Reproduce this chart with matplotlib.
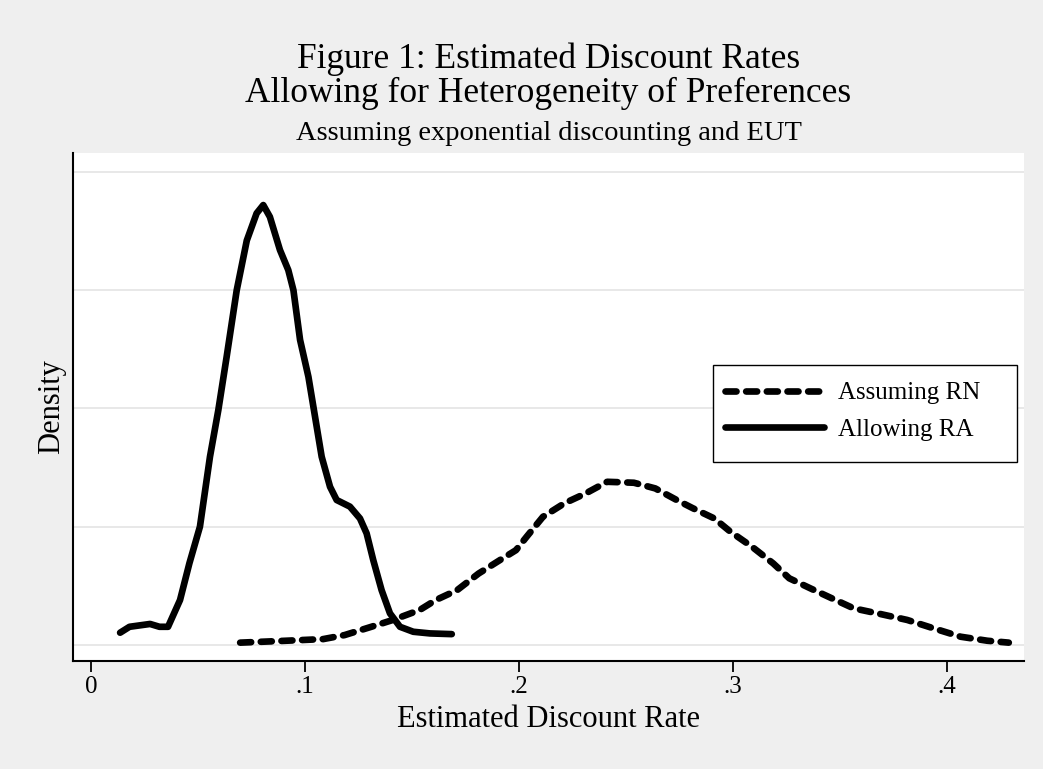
import matplotlib
matplotlib.use("Agg")
import matplotlib.pyplot as plt
from matplotlib.patches import Rectangle

# ---- data ----
ra_x = [0.0136, 0.018, 0.0276, 0.032, 0.036, 0.0416, 0.046, 0.0509, 0.0556, 0.0595,
        0.0634, 0.0681, 0.0728, 0.0774, 0.0805, 0.0836, 0.0883, 0.0922, 0.0946, 0.0977,
        0.1016, 0.1047, 0.1078, 0.1117, 0.1148, 0.121, 0.1257, 0.1288, 0.1319, 0.1358,
        0.1397, 0.1444, 0.1506, 0.1584, 0.1686]
ra_y = [0.52, 0.77, 0.89, 0.77, 0.77, 1.9, 3.46, 5.0, 7.96, 9.93,
        12.19, 15.0, 17.1, 18.25, 18.6, 18.1, 16.7, 15.85, 15.0, 12.9,
        11.34, 9.65, 7.96, 6.69, 6.13, 5.85, 5.35, 4.72, 3.59, 2.32,
        1.34, 0.77, 0.56, 0.49, 0.46]

rn_x = [0.0697, 0.0885, 0.1085, 0.1185, 0.131, 0.1411, 0.1536, 0.1611, 0.1711, 0.1811,
        0.1911, 0.1986, 0.2036, 0.2112, 0.2212, 0.2312, 0.2412, 0.2537, 0.2637, 0.2737,
        0.2813, 0.2913, 0.2988, 0.3088, 0.3188, 0.3263, 0.3363, 0.3463, 0.3564, 0.3689,
        0.3814, 0.3939, 0.4064, 0.4189, 0.4289]
rn_y = [0.10, 0.17, 0.25, 0.42, 0.77, 1.06, 1.48, 1.90, 2.32, 3.02,
        3.59, 4.01, 4.58, 5.42, 5.99, 6.41, 6.90, 6.86, 6.62, 6.13,
        5.78, 5.35, 4.79, 4.16, 3.45, 2.82, 2.39, 1.97, 1.55, 1.31,
        1.06, 0.70, 0.35, 0.18, 0.10]

x_ticks = [0, 0.1, 0.2, 0.3, 0.4]
x_tick_labels = ["0", ".1", ".2", ".3", ".4"]
y_grid = [0, 5, 10, 15, 20]

title_lines = "Figure 1: Estimated Discount Rates\nAllowing for Heterogeneity of Preferences"
subtitle = "Assuming exponential discounting and EUT"
series_labels = ["Assuming RN", "Allowing RA"]

# ---- figure ----
serif = ["Liberation Serif", "DejaVu Serif"]
plt.rcParams["font.family"] = serif

bg = "#efefef"
fig = plt.figure(figsize=(10.43, 7.69), dpi=100, facecolor=bg)
ax = fig.add_axes([73 / 1043, 1 - 661 / 769, 951 / 1043, 508 / 769])
ax.set_facecolor("white")

lw = 4.8
ax.plot(rn_x, rn_y, color="black", lw=lw, linestyle=(0, (1.65, 1.45)),
        dash_capstyle="round", solid_capstyle="round", dash_joinstyle="round",
        label=series_labels[0], zorder=3)
ax.plot(ra_x, ra_y, color="black", lw=lw, solid_capstyle="round",
        solid_joinstyle="round", label=series_labels[1], zorder=3)

ax.set_xlim(-0.00841, 0.436)
ax.set_ylim(-0.676, 20.8)

ax.set_yticks(y_grid)
ax.set_yticklabels([])
ax.tick_params(axis="y", length=0)
ax.grid(axis="y", color="#e6e6e6", lw=1.3, zorder=0)
ax.set_xticks(x_ticks)
ax.set_xticklabels(x_tick_labels, fontsize=18)
ax.tick_params(axis="x", length=8, width=1.3, pad=3, direction="out")

for s in ["top", "right"]:
    ax.spines[s].set_visible(False)
for s in ["left", "bottom"]:
    ax.spines[s].set_linewidth(1.5)
    ax.spines[s].set_color("black")

ax.set_xlabel("Estimated Discount Rate", fontsize=22, labelpad=5)
ax.set_ylabel("Density", fontsize=22, labelpad=1.5)

# legend frame (Stata-style box with generous padding)
frame = Rectangle(((713 - 73) / 951, (661 - 462) / 508), 304 / 951, 97 / 508,
                  transform=ax.transAxes, facecolor="white", edgecolor="black",
                  lw=1.0, zorder=5)
ax.add_patch(frame)
leg = ax.legend(loc="upper left",
                bbox_to_anchor=((725.3 - 73) / 951, (661 - 382) / 508),
                borderaxespad=0, borderpad=0, fontsize=18, frameon=False,
                handlelength=3.93, handletextpad=0.58, labelspacing=0.56)
leg.set_zorder(6)

fig.text(548.5 / 1043, 1 - 42 / 769, title_lines, ha="center", va="top",
         fontsize=25.5, linespacing=1.05)
fig.text(548.5 / 1043, 1 - 140 / 769, subtitle, ha="center", va="baseline",
         fontsize=20.5)

fig.savefig("out.png", dpi=100, facecolor=bg)
